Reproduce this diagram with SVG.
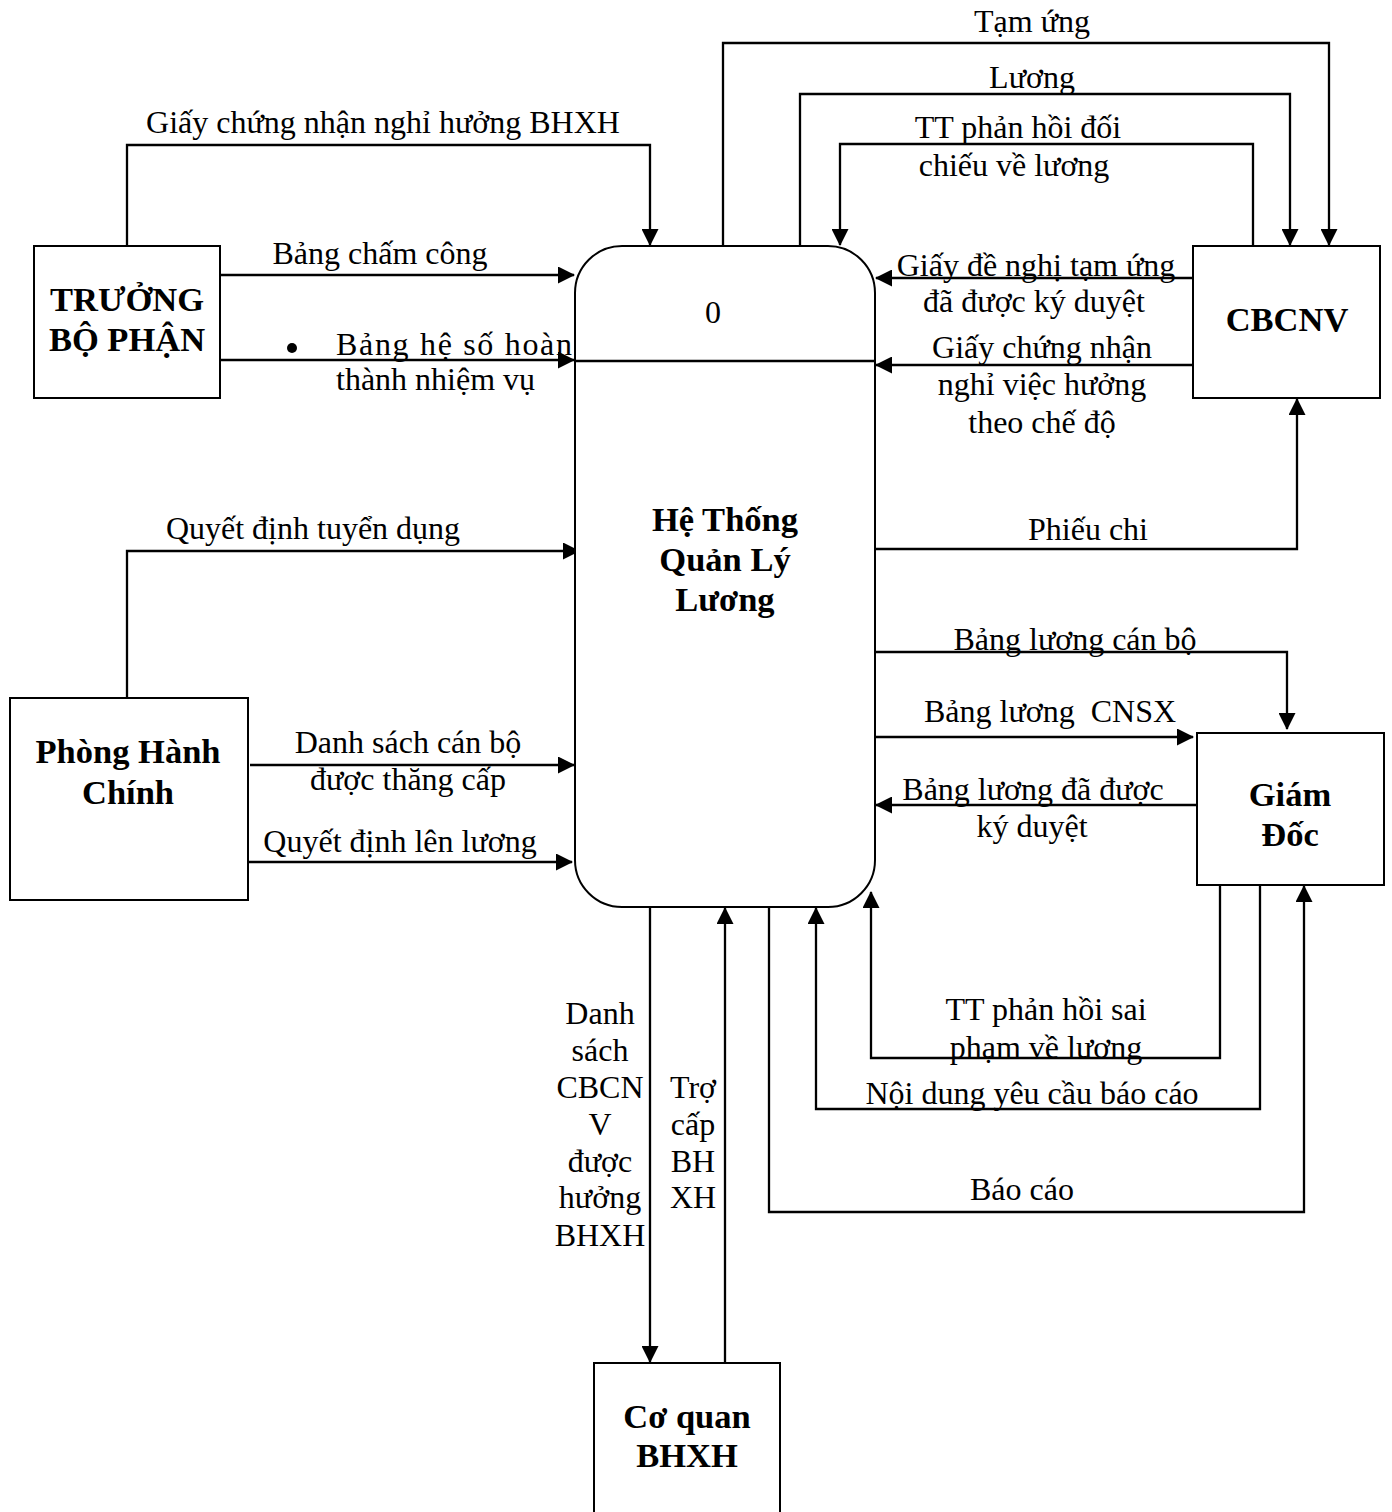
<svg xmlns="http://www.w3.org/2000/svg" width="1392" height="1512" viewBox="0 0 1392 1512">
  <style>
    .box { fill: #fff; stroke: #000; stroke-width: 2; }
    .ln { fill: none; stroke: #000; stroke-width: 2.3; }
    .t { font-family: "Liberation Serif", "Times New Roman", serif; font-size: 32px; fill: #000; white-space: pre; }
    .c { text-anchor: middle; }
    .b { font-weight: bold; font-size: 34.5px; }
  </style>
  <defs>
    <marker id="arrow" markerWidth="17" markerHeight="17" refX="16" refY="8.5" orient="auto" markerUnits="userSpaceOnUse">
      <path d="M0,0 L17,8.5 L0,17 z" fill="#000"/>
    </marker>
  </defs>
  <rect width="1392" height="1512" fill="#fff"/>

  <!-- Connectors (data flows) -->
  <g id="connectors" class="ln">
    <path d="M127,246 V145 H650 V245" marker-end="url(#arrow)"/>
    <path d="M220,275 H574" marker-end="url(#arrow)"/>
    <path d="M220,360 H574" marker-end="url(#arrow)"/>
    <path d="M127,698 V551 H579" marker-end="url(#arrow)"/>
    <path d="M250,765 H574" marker-end="url(#arrow)"/>
    <path d="M249,862 H572" marker-end="url(#arrow)"/>
    <path d="M723,246 V43 H1329 V245" marker-end="url(#arrow)"/>
    <path d="M800,246 V94 H1290 V245" marker-end="url(#arrow)"/>
    <path d="M1253,246 V144 H840 V245" marker-end="url(#arrow)"/>
    <path d="M1193,278 H876" marker-end="url(#arrow)"/>
    <path d="M1193,365 H876" marker-end="url(#arrow)"/>
    <path d="M875,549 H1297 V399" marker-end="url(#arrow)"/>
    <path d="M875,652 H1287 V729" marker-end="url(#arrow)"/>
    <path d="M875,737 H1193" marker-end="url(#arrow)"/>
    <path d="M1197,805 H876" marker-end="url(#arrow)"/>
    <path d="M650,907 V1362" marker-end="url(#arrow)"/>
    <path d="M725,1363 V908" marker-end="url(#arrow)"/>
    <path d="M769,907 V1212 H1304 V886" marker-end="url(#arrow)"/>
    <path d="M1260,885 V1109 H816 V908" marker-end="url(#arrow)"/>
    <path d="M1220,885 V1058 H871 V892" marker-end="url(#arrow)"/>
  </g>

  <!-- Process 0 -->
  <g id="process-0">
    <rect class="box" x="575" y="246" width="300" height="661" rx="47" ry="47"/>
    <path class="ln" d="M575,361 H875"/>
    <text class="t c" x="713" y="323">0</text>
    <text class="t c b" x="725" y="531">Hệ Thống</text>
    <text class="t c b" x="725" y="571">Quản Lý</text>
    <text class="t c b" x="725" y="611">Lương</text>
  </g>

  <!-- External entities -->
  <g id="truong-bo-phan">
    <rect class="box" x="34" y="246" width="186" height="152"/>
    <text class="t c b" x="127" y="311">TRƯỞNG</text>
    <text class="t c b" x="127" y="351">BỘ PHẬN</text>
  </g>
  <g id="phong-hanh-chinh">
    <rect class="box" x="10" y="698" width="238" height="202"/>
    <text class="t c b" x="128" y="763">Phòng Hành</text>
    <text class="t c b" x="128" y="804">Chính</text>
  </g>
  <g id="cbcnv">
    <rect class="box" x="1193" y="246" width="187" height="152"/>
    <text class="t c b" x="1287" y="331">CBCNV</text>
  </g>
  <g id="giam-doc">
    <rect class="box" x="1197" y="733" width="187" height="152"/>
    <text class="t c b" x="1290" y="806">Giám</text>
    <text class="t c b" x="1290" y="846">Đốc</text>
  </g>
  <g id="co-quan-bhxh">
    <rect class="box" x="594" y="1363" width="186" height="170"/>
    <text class="t c b" x="687" y="1428">Cơ quan</text>
    <text class="t c b" x="687" y="1467">BHXH</text>
  </g>

  <!-- Flow labels -->
  <g id="labels">
    <text class="t c" x="383" y="133">Giấy chứng nhận nghỉ hưởng BHXH</text>
    <text class="t c" x="380" y="264">Bảng chấm công</text>
    <circle cx="292" cy="348" r="5" fill="#000"/>
    <text class="t" x="336" y="355" textLength="236" lengthAdjust="spacing">Bảng hệ số hoàn</text>
    <text class="t" x="336" y="390">thành nhiệm vụ</text>
    <text class="t c" x="313" y="539">Quyết định tuyển dụng</text>
    <text class="t c" x="408" y="753">Danh sách cán bộ</text>
    <text class="t c" x="408" y="790">được thăng cấp</text>
    <text class="t c" x="400" y="852">Quyết định lên lương</text>

    <text class="t c" x="1032" y="32">Tạm ứng</text>
    <text class="t c" x="1032" y="88">Lương</text>
    <text class="t c" x="1018" y="138">TT phản hồi đối</text>
    <text class="t c" x="1014" y="176">chiếu về lương</text>
    <text class="t c" x="1036" y="276">Giấy đề nghị tạm ứng</text>
    <text class="t c" x="1034" y="312">đã được ký duyệt</text>
    <text class="t c" x="1042" y="358">Giấy chứng nhận</text>
    <text class="t c" x="1042" y="395">nghỉ việc hưởng</text>
    <text class="t c" x="1042" y="433">theo chế độ</text>
    <text class="t c" x="1088" y="540">Phiếu chi</text>
    <text class="t c" x="1075" y="650">Bảng lương cán bộ</text>
    <text class="t c" x="1050" y="722">Bảng lương  CNSX</text>
    <text class="t c" x="1033" y="800">Bảng lương đã được</text>
    <text class="t c" x="1032" y="837">ký duyệt</text>

    <text class="t c" x="1046" y="1020">TT phản hồi sai</text>
    <text class="t c" x="1046" y="1058">phạm về lương</text>
    <text class="t c" x="1032" y="1104">Nội dung yêu cầu báo cáo</text>
    <text class="t c" x="1022" y="1200">Báo cáo</text>

    <text class="t c" x="600" y="1024">Danh</text>
    <text class="t c" x="600" y="1061">sách</text>
    <text class="t c" x="600" y="1098">CBCN</text>
    <text class="t c" x="600" y="1135">V</text>
    <text class="t c" x="600" y="1172">được</text>
    <text class="t c" x="600" y="1208">hưởng</text>
    <text class="t c" x="600" y="1246">BHXH</text>

    <text class="t c" x="693" y="1098">Trợ</text>
    <text class="t c" x="693" y="1135">cấp</text>
    <text class="t c" x="693" y="1172">BH</text>
    <text class="t c" x="693" y="1208">XH</text>
  </g>
</svg>
